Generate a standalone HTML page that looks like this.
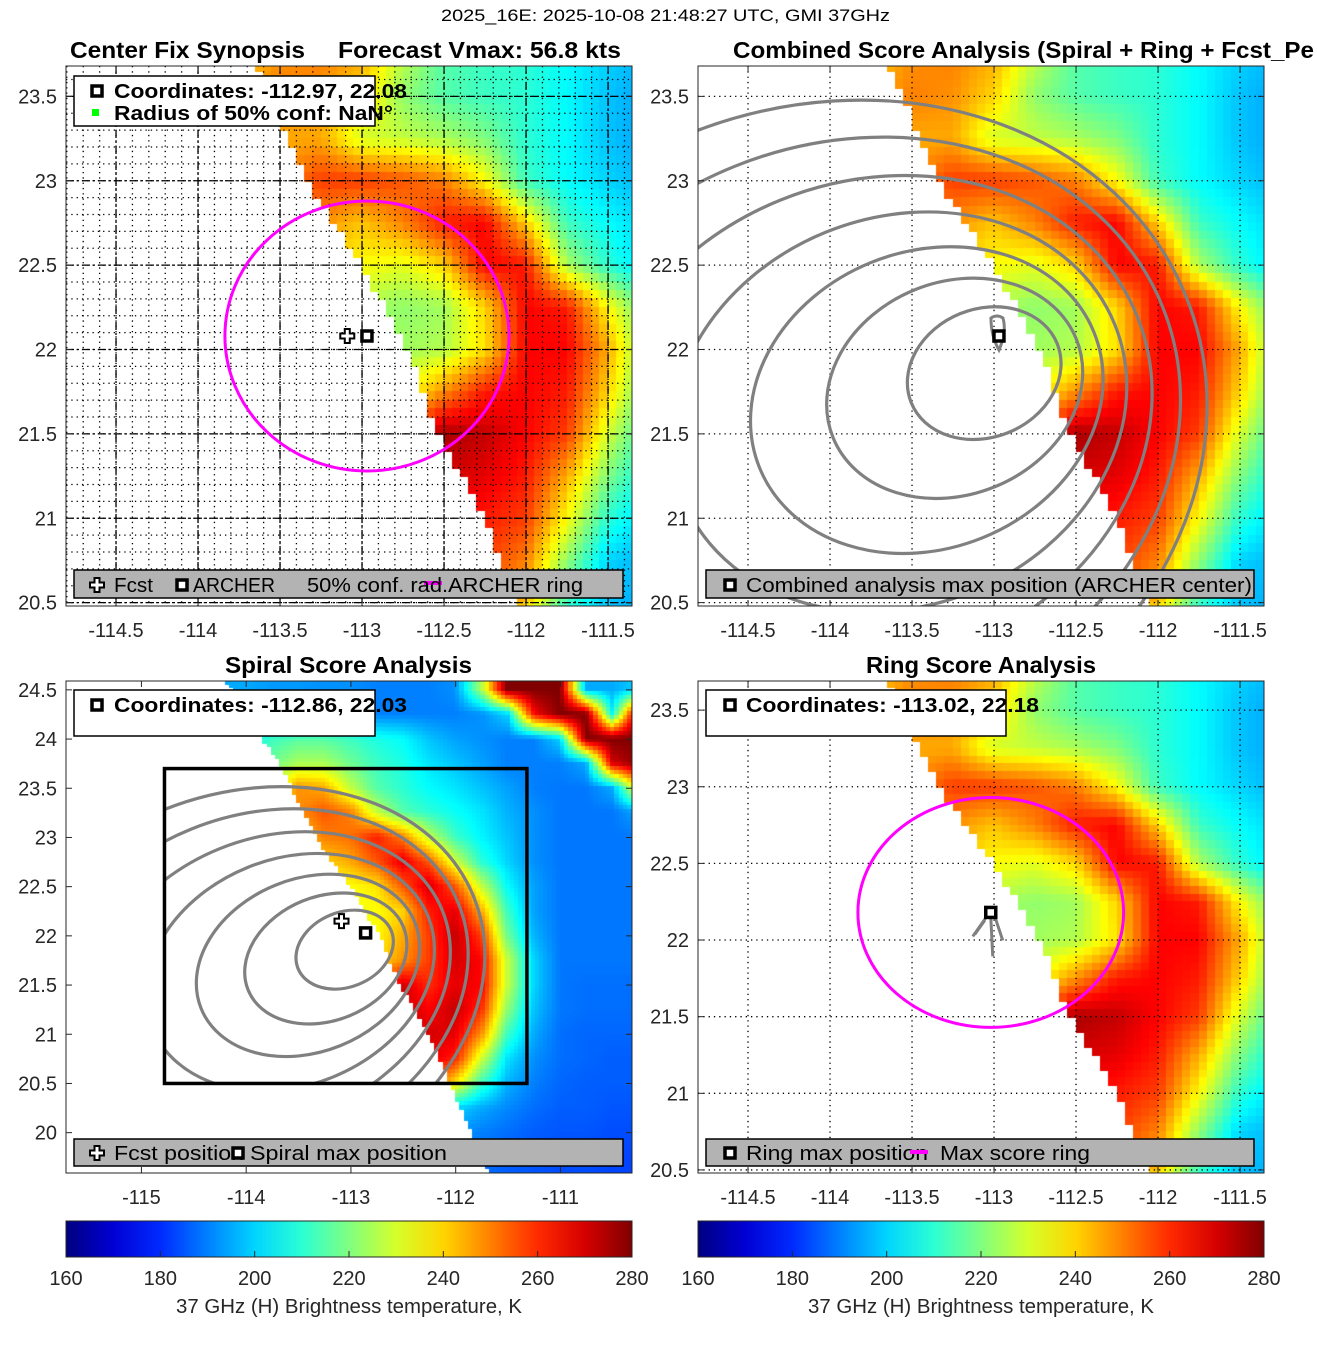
<!DOCTYPE html>
<html><head><meta charset="utf-8">
<style>
html,body{margin:0;padding:0;background:#fff;}
#fig{position:relative;width:1317px;height:1350px;overflow:hidden;font-family:"Liberation Sans","DejaVu Sans",sans-serif;}
canvas{position:absolute;}
svg{position:absolute;left:0;top:0;}
</style></head>
<body>
<div id="fig">
<canvas id="c1" style="left:66px;top:66px" width="566" height="540"></canvas>
<canvas id="c2" style="left:698px;top:66px" width="566" height="540"></canvas>
<canvas id="c3" style="left:66px;top:681px" width="566" height="492"></canvas>
<canvas id="c4" style="left:698px;top:681px" width="566" height="492"></canvas>
<svg id="ov" width="1317" height="1350"></svg>
</div>
<script>
// ---- data ----
const gridLons = [-114.25,-114,-113.75,-113.5,-113.25,-113,-112.75,-112.5,-112.25,-112,-111.75,-111.5,-111.25,-111,-110.75,-110.5,-110.25];
const gridLats = [24.5,24.25,24,23.75,23.5,23.25,23,22.75,22.5,22.25,22,21.75,21.5,21.25,21,20.75,20.5,20.25,20,19.75,19.5];
const tbValues = [
[215,215,212,210,210,208,205,205,205,210,240,280,280,280,220,230,280],
[212,212,210,210,208,205,205,205,205,205,205,215,250,280,240,270,280],
[215,215,218,220,215,210,205,205,205,200,200,200,200,200,260,280,280],
[230,235,240,248,250,245,228,215,212,210,205,200,196,196,200,250,275],
[235,240,245,250,248,240,222,215,212,210,205,198,194,194,195,200,230],
[235,238,240,245,245,230,228,225,220,210,205,198,194,194,195,195,200],
[235,238,242,248,258,258,255,250,235,212,205,200,196,195,195,195,195],
[230,235,240,245,248,242,250,262,265,240,212,205,200,196,195,195,195],
[225,228,232,238,240,235,232,240,265,262,225,210,200,196,195,195,195],
[222,225,228,230,228,225,222,224,240,265,262,235,215,200,196,195,195],
[222,222,225,228,228,225,224,226,238,265,265,245,218,200,196,195,195],
[225,225,228,230,230,230,232,248,262,265,262,240,215,202,196,195,195],
[228,230,232,235,238,242,258,275,272,265,258,230,210,203,198,195,195],
[230,232,235,238,240,245,262,270,268,262,245,220,205,200,196,195,195],
[232,235,238,240,242,248,262,265,262,258,235,210,200,198,196,195,195],
[235,238,240,242,245,250,260,262,258,250,222,200,196,196,195,195,195],
[238,240,242,245,248,252,258,260,258,242,212,198,195,195,193,193,193],
[240,240,242,245,248,252,258,255,240,220,205,198,193,192,190,190,190],
[240,240,242,245,248,250,250,240,220,205,198,193,190,190,190,190,190],
[235,235,235,238,240,240,235,222,208,198,193,190,190,190,190,190,190],
[230,230,230,230,230,230,225,212,200,193,190,190,190,190,190,190,190]];
const tbValuesSpiral = [
[195,195,193,193,192,192,190,190,190,192,225,280,280,280,195,195,200],
[195,195,195,193,193,192,190,190,190,190,192,200,265,280,280,205,280],
[198,205,212,215,215,212,208,205,198,194,192,190,190,200,280,280,280],
[200,208,218,225,225,218,212,208,202,198,194,190,190,190,195,270,280],
[200,210,232,248,245,228,215,210,205,202,198,194,190,189,189,195,240],
[200,210,232,248,255,250,228,215,210,206,202,196,192,189,189,189,195],
[200,210,228,240,250,252,262,250,228,212,204,198,192,189,189,189,189],
[200,208,222,235,240,245,255,268,255,230,210,200,192,189,189,189,189],
[200,208,220,230,232,235,238,255,270,255,228,205,194,189,189,189,189],
[200,206,218,228,230,232,235,240,262,268,245,212,194,189,189,189,189],
[200,206,216,225,228,230,235,245,258,272,258,218,196,189,189,189,189],
[200,206,216,225,228,232,238,248,258,270,265,228,200,189,189,189,189],
[200,206,216,225,230,240,258,270,260,268,265,228,200,189,188,188,188],
[200,206,218,228,235,255,268,272,265,272,260,222,198,189,188,188,188],
[200,206,218,230,240,260,270,275,270,268,248,212,195,188,187,187,187],
[200,206,218,230,240,255,265,268,268,262,230,202,192,188,187,186,186],
[200,206,218,228,235,245,250,250,255,238,212,196,190,187,186,186,186],
[196,200,206,212,218,222,222,218,210,200,195,191,188,186,186,185,185],
[194,196,200,205,208,208,205,200,196,193,190,188,186,185,185,184,184],
[192,194,196,198,198,198,196,194,192,190,188,186,185,184,184,183,183],
[190,192,193,193,193,193,192,191,190,189,188,186,185,184,184,183,183]];
const edgeLats = [24.6,23.7,23.0,22.5,22.0,21.55,21.0,20.5,19.5];
const edgeLons = [-114.2,-113.65,-113.33,-113.0,-112.72,-112.55,-112.25,-112.05,-111.65];
const contourCenterLon = [-113.06,-113.24,-113.41,-113.58,-113.75,-113.92,-114.1];
const contourCenterLat = [21.86,21.77,21.7,21.63,21.56,21.49,21.42];
const contourHalfLon = [0.48,0.8,1.1,1.42,1.75,2.1,2.45];
const contourHalfLat = [0.38,0.63,0.88,1.15,1.43,1.72,2.0];
const ticksLonA = [-114.5,-114,-113.5,-113,-112.5,-112,-111.5];
const ticksLatA = [20.5,21,21.5,22,22.5,23,23.5];
const ticksLonB = [-115,-114,-113,-112,-111];
const ticksLatB = [20,20.5,21,21.5,22,22.5,23,23.5,24,24.5];
const cbTicks = [160,180,200,220,240,260,280];
const fcstPos = [-113.09,22.08];
const archerPos = [-112.97,22.08];
const spiralPos = [-112.86,22.03];
const ringPos = [-113.02,22.18];
const ring1 = [-112.97,22.08,0.866,0.8];
const ring4 = [-113.02,22.18,0.81,0.75];
const spiralBox = [-114.78,-111.32,23.7,20.5];

const panels = [
 {id:'c1',L:66,T:66,W:566,H:540,lon0:-114.805,lon1:-111.354,lat0:23.68,lat1:20.48,tb:tbValues},
 {id:'c2',L:698,T:66,W:566,H:540,lon0:-114.805,lon1:-111.354,lat0:23.68,lat1:20.48,tb:tbValues},
 {id:'c3',L:66,T:681,W:566,H:492,lon0:-115.72,lon1:-110.317,lat0:24.59,lat1:19.59,tb:tbValuesSpiral},
 {id:'c4',L:698,T:681,W:566,H:492,lon0:-114.805,lon1:-111.354,lat0:23.69,lat1:20.48,tb:tbValues}];
function px(p,lon){return p.L+(lon-p.lon0)/(p.lon1-p.lon0)*p.W;}
function py(p,lat){return p.T+(p.lat0-lat)/(p.lat0-p.lat1)*p.H;}

function jet(v){
 let t=(v-160)/120; t=Math.max(0,Math.min(1,t));
 const r=Math.max(0,Math.min(1,1.5-Math.abs(4*t-3)));
 const g=Math.max(0,Math.min(1,1.5-Math.abs(4*t-2)));
 const b=Math.max(0,Math.min(1,1.5-Math.abs(4*t-1)));
 return 'rgb('+Math.round(r*255)+','+Math.round(g*255)+','+Math.round(b*255)+')';
}
function sample(tb,lon,lat){
 const fx=(lon-gridLons[0])/0.25, fy=(gridLats[0]-lat)/0.25;
 let i=Math.floor(fx), j=Math.floor(fy);
 i=Math.max(0,Math.min(gridLons.length-2,i)); j=Math.max(0,Math.min(gridLats.length-2,j));
 let ax=Math.max(0,Math.min(1,fx-i)), ay=Math.max(0,Math.min(1,fy-j));
 const a=tb[j][i],b=tb[j][i+1],c=tb[j+1][i],d=tb[j+1][i+1];
 return a*(1-ax)*(1-ay)+b*ax*(1-ay)+c*(1-ax)*ay+d*ax*ay;
}
function edgeAt(lat){
 for(let k=0;k<edgeLats.length-1;k++){
  if(lat<=edgeLats[k]&&lat>=edgeLats[k+1]){
   const t=(edgeLats[k]-lat)/(edgeLats[k]-edgeLats[k+1]);
   return edgeLons[k]+t*(edgeLons[k+1]-edgeLons[k]);}
 }
 return lat>edgeLats[0]?edgeLons[0]:edgeLons[edgeLons.length-1];
}
panels.forEach((p,idx)=>{
 const ctx=document.getElementById(p.id).getContext('2d');
 const step=idx===2?0.04:0.05;
 for(let lat=Math.ceil(p.lat0/step)*step; lat>p.lat1-step; lat-=step){
  for(let lon=Math.floor(p.lon0/step)*step; lon<p.lon1+step; lon+=step){
   const cl=lon+step/2, ct=lat-step/2;
   if(cl<edgeAt(ct)) continue;
   ctx.fillStyle=jet(sample(p.tb,cl,ct));
   const x0=px(p,lon)-p.L, x1=px(p,lon+step)-p.L, y0=py(p,lat)-p.T, y1=py(p,lat-step)-p.T;
   ctx.fillRect(Math.floor(x0),Math.floor(y0),Math.ceil(x1-x0)+1,Math.ceil(y1-y0)+1);
  }
 }
});

const NS='http://www.w3.org/2000/svg';
const ov=document.getElementById('ov');
function mk(tag,attrs,parent){const e=document.createElementNS(NS,tag);for(const k in attrs)e.setAttribute(k,attrs[k]);(parent||ov).appendChild(e);return e;}
const defs=mk('defs',{});
panels.forEach((p,i)=>{const cp=mk('clipPath',{id:'clip'+i},defs);mk('rect',{x:p.L,y:p.T,width:p.W,height:p.H},cp);});
const cpb=mk('clipPath',{id:'clipbox'},defs);
mk('rect',{x:px(panels[2],spiralBox[0]),y:py(panels[2],spiralBox[2]),width:px(panels[2],spiralBox[1])-px(panels[2],spiralBox[0]),height:py(panels[2],spiralBox[3])-py(panels[2],spiralBox[2])},cpb);

function grid(p,i,lons,lats,dash){
 const g=mk('g',{'clip-path':'url(#clip'+i+')'});
 
 
 lons.forEach(l=>{const x=px(p,l);mk('line',{x1:x,x2:x,y1:p.T,y2:p.T+p.H,stroke:'#000','stroke-width':1.3,'stroke-dasharray':dash},g);});
 lats.forEach(l=>{const y=py(p,l);mk('line',{x1:p.L,x2:p.L+p.W,y1:y,y2:y,stroke:'#000','stroke-width':1.3,'stroke-dasharray':dash},g);});
}
const minLon=[],minLat=[];
for(let v=-114.8;v<=-111.35;v+=0.1)minLon.push(v);
for(let v=20.5;v<=23.7;v+=0.1)minLat.push(v);
grid(panels[0],0,minLon,minLat,'1.3,4');
grid(panels[0],0,ticksLonA,ticksLatA,'8,3,2,3');
grid(panels[1],1,ticksLonA,ticksLatA,'1.3,4');
grid(panels[3],3,ticksLonA,ticksLatA,'1.3,4');

function contours(p,clip){
 const g=mk('g',{'clip-path':clip});
 
 
 for(let k=0;k<contourCenterLon.length;k++){
  const cx=px(p,contourCenterLon[k]),cy=py(p,contourCenterLat[k]);
  const rx=contourHalfLon[k]*p.W/(p.lon1-p.lon0), ry=contourHalfLat[k]*p.H/(p.lat0-p.lat1);
  const e=mk('ellipse',{cx:cx,cy:cy,rx:rx,ry:ry,fill:'none',stroke:'#808080','stroke-width':3.2,transform:'rotate(-22 '+cx+' '+cy+')'},g);
  
  
 }
}
contours(panels[1],'url(#clip1)');
contours(panels[2],'url(#clipbox)');
{const p=panels[1];const x=px(p,archerPos[0]),y=py(p,archerPos[1]);
 const s=mk('path',{d:'M'+(x-8)+' '+(y-18)+' q6 -4 12 0 q4 14 -4 32 q-8 -14 -8 -32z',fill:'none',stroke:'#808080','stroke-width':3});
 }
{const p=panels[3];const x=px(p,ringPos[0]),y=py(p,ringPos[1]);
 const s=mk('path',{d:'M'+(x-4)+' '+(y+4)+' l-14 20 M'+(x)+' '+(y+4)+' l2 40 M'+(x+4)+' '+(y+4)+' l8 24 M'+(x-6)+' '+(y+8)+' l-10 14',fill:'none',stroke:'#808080','stroke-width':3});
 }

{const p=panels[2];const x0=px(p,spiralBox[0]),x1=px(p,spiralBox[1]),y0=py(p,spiralBox[2]),y1=py(p,spiralBox[3]);
 const b=mk('rect',{x:x0,y:y0,width:x1-x0,height:y1-y0,fill:'none',stroke:'#000','stroke-width':3.5});
 }

function ring(p,i,r,name){const e=mk('ellipse',{cx:px(p,r[0]),cy:py(p,r[1]),rx:r[2]*p.W/(p.lon1-p.lon0),ry:r[3]*p.H/(p.lat0-p.lat1),fill:'none',stroke:'#ff00ff','stroke-width':3,'clip-path':'url(#clip'+i+')'});
 }
ring(panels[0],0,ring1,'archer-ring');
ring(panels[3],3,ring4,'max-score-ring');

function square(x,y,name){const e=mk('rect',{x:x-5,y:y-5,width:10,height:10,fill:'#fff',stroke:'#000','stroke-width':3.5});
 }
function cross(x,y,name){const e=mk('path',{d:'M'+(x-2.5)+' '+(y-7)+'h5v4.5h4.5v5h-4.5v4.5h-5v-4.5h-4.5v-5h4.5z',fill:'#fff',stroke:'#000','stroke-width':2});
 }
cross(px(panels[0],fcstPos[0]),py(panels[0],fcstPos[1]),'fcst-marker');
square(px(panels[0],archerPos[0]),py(panels[0],archerPos[1]),'archer-marker');
square(px(panels[1],archerPos[0]),py(panels[1],archerPos[1]),'combined-max-marker');
cross(px(panels[2],fcstPos[0]),py(panels[2],fcstPos[1]+0.07),'fcst-marker');
square(px(panels[2],spiralPos[0]),py(panels[2],spiralPos[1]),'spiral-max-marker');
square(px(panels[3],ringPos[0]),py(panels[3],ringPos[1]),'ring-max-marker');

function txt(x,y,s,opt,name,len){const o=Object.assign({x:x,y:y,'font-size':20,fill:'#262626','font-family':'"Liberation Sans","DejaVu Sans",sans-serif'},opt||{});
 if(len){o.textLength=len;o.lengthAdjust='spacingAndGlyphs';}
 const t=mk('text',o);t.textContent=s;
 return t;}
function axes(p,lons,lats){
 const b=mk('rect',{x:p.L,y:p.T,width:p.W,height:p.H,fill:'none',stroke:'#262626','stroke-width':1});
 
 lons.forEach(l=>{const x=px(p,l);mk('line',{x1:x,x2:x,y1:p.T+p.H,y2:p.T+p.H-6,stroke:'#262626'});mk('line',{x1:x,x2:x,y1:p.T,y2:p.T+6,stroke:'#262626'});
  txt(x,p.T+p.H+31,String(l),{'text-anchor':'middle'},'x-tick-label');});
 lats.forEach(l=>{const y=py(p,l);mk('line',{x1:p.L,x2:p.L+6,y1:y,y2:y,stroke:'#262626'});mk('line',{x1:p.L+p.W,x2:p.L+p.W-6,y1:y,y2:y,stroke:'#262626'});
  txt(p.L-9,y+7,String(l),{'text-anchor':'end'},'y-tick-label');});
}
axes(panels[0],ticksLonA,ticksLatA);
axes(panels[1],ticksLonA,ticksLatA);
axes(panels[2],ticksLonB,ticksLatB);
axes(panels[3],ticksLonA,ticksLatA);

function box(x,y,w,h,fill,name){const r=mk('rect',{x:x,y:y,width:w,height:h,fill:fill,stroke:'#000','stroke-width':1.5});}
const bold={'font-weight':'bold',fill:'#000'};
const blk={fill:'#000'};
box(74,76,301,50,'#fff','info-box');
square(97,91,'legend-square');
txt(114,98,'Coordinates: -112.97, 22.08',bold,'coordinates-text',293);
mk('rect',{x:92,y:109,width:7,height:7,fill:'#00ff00'});
txt(114,120,'Radius of 50% conf: NaN°',bold,'radius-text',279);

box(74,570,549,28,'#b3b3b3','legend-center-fix');
cross(97,585,'legend-fcst');txt(114,592,'Fcst',blk,'legend-entry',39);
square(182,585,'legend-archer');txt(193,592,'ARCHER',blk,'legend-entry',82);
mk('line',{x1:424,x2:442,y1:583,y2:583,stroke:'#ff00ff','stroke-width':4});
txt(307,592,'50% conf. rad.ARCHER ring',blk,'legend-entry',276);

box(706,570,548,28,'#b3b3b3','legend-combined');
square(730,585,'legend-combined-max');txt(746,592,'Combined analysis max position (ARCHER center)',blk,'legend-entry',506);

box(74,690,301,46,'#fff','info-box-spiral');
square(97,705,'legend-square');txt(114,712,'Coordinates: -112.86, 22.03',bold,'coordinates-text',293);
box(74,1139,549,27,'#b3b3b3','legend-spiral');
cross(97,1153,'legend-fcst');txt(114,1160,'Fcst position',blk,'legend-entry',130);
square(238,1153,'legend-spiral-max');txt(250,1160,'Spiral max position',blk,'legend-entry',197);

box(706,690,300,46,'#fff','info-box-ring');
square(730,705,'legend-square');txt(746,712,'Coordinates: -113.02, 22.18',bold,'coordinates-text',293);
box(706,1139,548,27,'#b3b3b3','legend-ring');
square(730,1153,'legend-ring-max');txt(746,1160,'Ring max position',blk,'legend-entry',182);
mk('line',{x1:910,x2:928,y1:1152,y2:1152,stroke:'#ff00ff','stroke-width':4});
txt(940,1160,'Max score ring',blk,'legend-entry',150);

txt(441,21,'2025_16E: 2025-10-08 21:48:27 UTC, GMI 37GHz',{'font-size':17,fill:'#000'},'figure-title',449);
txt(70,58,'Center Fix Synopsis',Object.assign({'font-size':23},bold),'panel-title',235);
txt(338,58,'Forecast Vmax: 56.8 kts',Object.assign({'font-size':23},bold),'panel-title',283);
txt(733,58,'Combined Score Analysis (Spiral + Ring + Fcst_Pe',Object.assign({'font-size':23},bold),'panel-title',581);
txt(225,673,'Spiral Score Analysis',Object.assign({'font-size':23},bold),'panel-title',247);
txt(866,673,'Ring Score Analysis',Object.assign({'font-size':23},bold),'panel-title',230);

[66,698].forEach((L,ci)=>{
 const gid='cbg'+ci;const lg=mk('linearGradient',{id:gid,x1:0,x2:1,y1:0,y2:0},defs);
 for(let v=160;v<=280;v+=10)mk('stop',{offset:(v-160)/120,'stop-color':jet(v)},lg);
 const r=mk('rect',{x:L,y:1221,width:566,height:36,fill:'url(#'+gid+')',stroke:'#262626','stroke-width':1});
 
 cbTicks.forEach(v=>{const x=L+(v-160)/120*566;mk('line',{x1:x,x2:x,y1:1257,y2:1251,stroke:'#262626'});
  txt(x,1285,String(v),{'text-anchor':'middle'},'colorbar-tick-label');});
 txt(L+110,1313,'37 GHz (H) Brightness temperature, K',{},'colorbar-label',346);
});
</script>
</body></html>
